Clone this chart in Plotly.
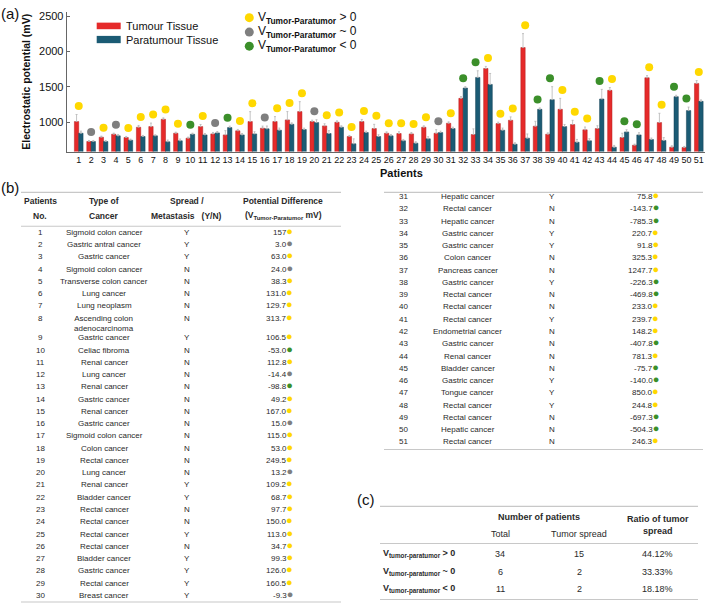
import plotly.graph_objects as go

W, H = 709, 603

# ---------------- data ----------------
patients = list(range(1, 52))
tumour = [1010, 728, 789, 831, 785, 930, 939, 1042, 845, 775, 939, 836, 822, 879, 1010, 916, 1010,
          1034, 1151, 1010, 949, 1000, 799, 1010, 911, 845, 841, 836, 930, 845, 986, 1338, 827, 1760,
          982, 1028, 2056, 944, 831, 1183, 968, 893, 911, 1451, 785, 676, 1629, 996, 648, 644, 1549]
paratumour = [845, 728, 728, 808, 747, 799, 808, 724, 738, 831, 822, 850, 925, 822, 836, 907, 888,
              972, 897, 996, 841, 930, 696, 855, 799, 808, 738, 705, 766, 855, 911, 1484, 1634, 1535,
              888, 690, 775, 1183, 1320, 939, 718, 738, 1329, 648, 864, 822, 757, 743, 1362, 1165, 1296]
tumour_err = [100, 15, 15, 15, 15, 25, 50, 20, 15, 15, 30, 20, 60, 20, 140, 30, 70, 117, 140, 20, 30,
              20, 15, 30, 60, 20, 25, 20, 20, 50, 20, 25, 80, 30, 20, 48, 197, 70, 20, 155, 60, 40,
              40, 40, 60, 15, 30, 131, 20, 15, 40]
paratumour_err = [30, 15, 15, 20, 15, 15, 15, 25, 25, 15, 20, 20, 20, 20, 30, 40, 30, 20, 20, 40, 40,
                  20, 70, 20, 25, 20, 20, 20, 30, 20, 20, 20, 94, 155, 30, 20, 60, 20, 183, 30, 40,
                  30, 136, 25, 30, 30, 20, 40, 20, 50, 20]

cancer_types = ["Sigmoid colon cancer", "Gastric antral cancer", "Gastric cancer", "Sigmoid colon cancer",
                "Transverse colon cancer", "Lung cancer", "Lung neoplasm",
                "Ascending colon<br>adenocarcinoma", "Gastric cancer", "Celiac fibroma",
                "Renal cancer", "Lung cancer", "Renal cancer", "Gastric cancer", "Renal cancer",
                "Gastric cancer", "Sigmoid colon cancer", "Colon cancer", "Rectal cancer", "Lung cancer",
                "Renal cancer", "Bladder cancer", "Rectal cancer", "Rectal cancer", "Rectal cancer",
                "Rectal cancer", "Bladder cancer", "Gastric cancer", "Rectal cancer", "Breast cancer",
                "Hepatic cancer", "Rectal cancer", "Hepatic cancer", "Gastric cancer", "Gastric cancer",
                "Colon cancer", "Pancreas cancer", "Gastric cancer", "Rectal cancer", "Rectal cancer",
                "Rectal cancer", "Endometrial cancer", "Gastric cancer", "Renal cancer", "Bladder cancer",
                "Gastric cancer", "Tongue cancer", "Rectal cancer", "Rectal cancer", "Hepatic cancer",
                "Rectal cancer"]
spread = ["Y", "Y", "Y", "N", "N", "N", "N", "N", "Y", "N", "N", "N", "N", "N", "N", "N", "N", "N",
          "N", "N", "Y", "Y", "N", "N", "Y", "N", "Y", "Y", "Y", "Y", "Y", "N", "N", "Y", "Y", "N",
          "N", "Y", "N", "N", "Y", "N", "N", "N", "N", "Y", "Y", "Y", "N", "N", "N"]
potential_diff = ["157", "3.0", "63.0", "24.0", "38.3", "131.0", "129.7", "313.7", "106.5", "-53.0",
                  "112.8", "-14.4", "-98.8", "49.2", "167.0", "15.0", "115.0", "53.0", "249.5", "13.2",
                  "109.2", "68.7", "97.7", "150.0", "113.0", "34.7", "99.3", "126.0", "160.5", "-9.3",
                  "75.8", "-143.7", "-785.3", "220.7", "91.8", "325.3", "1247.7", "-226.3", "-469.8",
                  "233.0", "239.7", "148.2", "-407.8", "781.3", "-75.7", "-140.0", "850.0", "244.8",
                  "-697.3", "-504.3", "246.3"]

summary_groups = [">", "~", "<"]
summary_total = [34, 6, 11]
summary_spread = [15, 2, 2]
summary_ratio = ["44.12%", "33.33%", "18.18%"]

# ---------------- styles ----------------
RED = "#e52a2a"
BLUE = "#1b5b74"
YEL = "#ffd800"
GRY = "#7f7f7f"
GRN = "#3b8f2a"
FONT = "Arial, Liberation Sans, sans-serif"
TXT = "#2a2a2a"


def cat_color(v):
    v = float(v)
    if abs(v) < 30:
        return GRY
    return YEL if v > 0 else GRN


dot_colors = [cat_color(v) for v in potential_diff]
dot_y = [max(t + et, p + ep) + 120 for t, et, p, ep in zip(tumour, tumour_err, paratumour, paratumour_err)]


def X(px):
    return px / W


def Y(py):
    return 1 - py / H


fig = go.Figure()
fig.add_trace(go.Bar(x=patients, y=tumour, name="Tumour Tissue", marker_color=RED,
                     marker_line=dict(color="#b31c1c", width=0.5),
                     error_y=dict(type="data", symmetric=False, array=tumour_err,
                                  arrayminus=[0] * len(tumour), color="#b5b5b5", thickness=0.8, width=1)))
fig.add_trace(go.Bar(x=patients, y=paratumour, name="Paratumour Tissue", marker_color=BLUE,
                     marker_line=dict(color="#123f52", width=0.5),
                     error_y=dict(type="data", symmetric=False, array=paratumour_err,
                                  arrayminus=[0] * len(paratumour), color="#b5b5b5", thickness=0.8, width=1)))
fig.add_trace(go.Scatter(x=patients, y=dot_y, mode="markers",
                         marker=dict(size=8, color=dot_colors, line=dict(width=0))))

annotations = []
shapes = []


def ann(x, y, text, size=8, xanchor="center", yanchor="middle", color=TXT, font=FONT, textangle=0):
    annotations.append(dict(x=X(x), y=Y(y), xref="paper", yref="paper", text=text, showarrow=False,
                            xanchor=xanchor, yanchor=yanchor, textangle=textangle, borderpad=0,
                            font=dict(size=size, color=color, family=font)))


def hline(x0, x1, y, color="#c8c8c8", width=1.2):
    shapes.append(dict(type="line", xref="paper", yref="paper", x0=X(x0), x1=X(x1), y0=Y(y), y1=Y(y),
                       line=dict(color=color, width=width)))


# ---- panel (a) labels / legend ----
ann(0, 12, "(a)", size=15, xanchor="left", color="#111")
ann(26, 80, "<b>Electrostatic potential (mV)</b>", size=10.5, textangle=-90, color="#111")
ann(401, 172, "<b>Patients</b>", size=11, color="#111")

shapes.append(dict(type="rect", xref="paper", yref="paper", x0=X(96.7), x1=X(120.7), y0=Y(27.3), y1=Y(20.7),
                   fillcolor=RED, line=dict(width=0)))
shapes.append(dict(type="rect", xref="paper", yref="paper", x0=X(96.7), x1=X(120.7), y0=Y(41.3), y1=Y(34),
                   fillcolor=BLUE, line=dict(width=0)))
ann(125, 24, "Tumour Tissue", size=11, xanchor="left", color="#111")
ann(125, 38, "Paratumour Tissue", size=11, xanchor="left", color="#111")

for i, (col, sym) in enumerate([(YEL, "&gt; 0"), (GRY, "~ 0"), (GRN, "&lt; 0")]):
    cy = [15.7, 30.2, 44.3][i]
    shapes.append(dict(type="circle", xref="paper", yref="paper", x0=X(244.8), x1=X(253.8),
                       y0=Y(cy + 4.5), y1=Y(cy - 4.5), fillcolor=col, line=dict(width=0)))
    ann(257, cy, "V<sub><b>Tumor-Paratumor</b></sub> " + sym, size=12, xanchor="left", color="#111")

# ---- panel (b) ----
ann(0, 186, "(b)", size=15, xanchor="left", color="#111")
hline(21, 341, 191)
hline(21, 341, 225)
hline(21, 341, 602)
hline(384, 703, 191)
hline(384, 703, 449)

HS = 8.5
ann(40, 199.5, "<b>Patients</b>", size=HS)
ann(40, 214.5, "<b>No.</b>", size=HS)
ann(104, 199.5, "<b>Type of</b>", size=HS)
ann(104, 214.5, "<b>Cancer</b>", size=HS)
ann(187, 199.5, "<b>Spread /</b>", size=HS)
ann(187, 214.5, "<b>Metastasis\u00a0\u00a0\u00a0(Y/N)</b>", size=HS)
ann(283, 199.5, "<b>Potential Difference</b>", size=HS)
ann(283, 214.5, "<b>(V<sub>Tumor-Paratumor</sub> mV)</b>", size=HS)

RS = 8
for i in range(51):
    n = patients[i]
    if n <= 30:
        xs = (40, 104, 187.5, 293.5)
        if n <= 8:
            yy = 231 + (n - 1) * 12.3
        else:
            yy = 337 + (n - 9) * 12.3
    else:
        xs = (403.3, 467.7, 551.7, 659.5)
        yy = 195.3 + (n - 31) * 12.3
    ann(xs[0], yy, str(n), size=RS)
    if "<br>" in cancer_types[i]:
        ann(xs[1], yy - 5.5, cancer_types[i], size=RS, yanchor="top")
    else:
        ann(xs[1], yy, cancer_types[i], size=RS)
    ann(xs[2], yy, spread[i], size=RS)
    ann(xs[3], yy - 1.5, potential_diff[i] +
        "<span style='color:%s;font-size:11px'>\u25cf</span>" % dot_colors[i],
        size=RS, xanchor="right")

# ---- panel (c) ----
ann(356, 499, "(c)", size=15, xanchor="left", color="#111")
hline(380, 698, 506)
hline(380, 698, 543.3)
hline(380, 698, 599.5)
CS = 9
ann(539, 516.5, "<b>Number of patients</b>", size=CS)
ann(657.5, 518.5, "<b>Ratio of tumor</b>", size=CS)
ann(657.5, 530.5, "<b>spread</b>", size=CS)
ann(500, 534, "Total", size=CS)
ann(579, 534, "Tumor spread", size=CS)
sym_txt = {">": "&gt; 0", "~": "~ 0", "<": "&lt; 0"}
for j, g in enumerate(summary_groups):
    yy = [554, 572, 589.3][j]
    ann(382, yy, "<b>V<sub>tumor-paratumor</sub> " + sym_txt[g] + "</b>", size=CS, xanchor="left")
    ann(500, yy, str(summary_total[j]), size=CS)
    ann(579, yy, str(summary_spread[j]), size=CS)
    ann(657.5, yy, summary_ratio[j], size=CS)

fig.update_layout(
    width=W, height=H,
    margin=dict(l=0, r=0, t=0, b=0),
    paper_bgcolor="white", plot_bgcolor="white",
    showlegend=False,
    barmode="group", bargap=0.3, bargroupgap=0,
    font=dict(family=FONT, color="#111"),
    xaxis=dict(domain=[X(66.7), X(705)], range=[0.03, 51.5], tickmode="array", tickvals=patients,
               ticktext=[str(p) for p in patients], tickfont=dict(size=9, color="#111"), tickangle=0,
               showline=True, linecolor="#666", linewidth=1, ticks="", showgrid=False, zeroline=False,
               anchor="y"),
    yaxis=dict(domain=[Y(150), Y(10)], range=[587, 2559], tickvals=[1000, 1500, 2000, 2500],
               tickfont=dict(size=11, color="#111"), showline=True, linecolor="#666", linewidth=1,
               ticks="inside", ticklen=3, tickcolor="#666", showgrid=False, zeroline=False),
    annotations=annotations,
    shapes=shapes,
)

fig.write_html("out.html", config={"displayModeBar": False},
               post_script="document.body.style.margin='0px';document.body.style.overflow='hidden';")
